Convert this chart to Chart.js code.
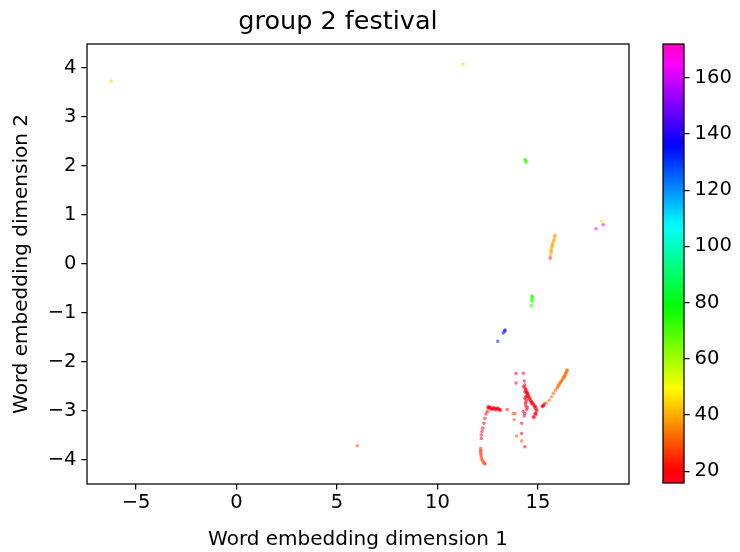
<!DOCTYPE html>
<html>
<head>
<meta charset="utf-8">
<script src="https://cdn.jsdelivr.net/npm/chart.js@4.4.1/dist/chart.umd.min.js"></script>
<style>
  html, body { margin: 0; padding: 0; background: #fff; }
  #wrap { position: relative; width: 740px; height: 552px; }
  #main { position: absolute; left: 0; top: 0; }
  #cbar { position: absolute; left: 640px; top: 0; }
</style>
</head>
<body>
<div id="wrap">
  <canvas id="main" width="740" height="552"></canvas>
  <canvas id="cbar" width="100" height="552"></canvas>
</div>
<script>
// Word embedding coordinates (dimension 1, dimension 2) and the word index used for colour
const dim1 = [
  -6.23, 11.28, 6.01,
  14.35, 14.38, 14.40, 14.41,
  14.70, 14.73, 14.69, 14.72, 14.67, 14.71,
  15.85, 15.82, 15.80, 15.76, 15.73, 15.70, 15.68, 15.66, 15.65, 15.63, 15.61,
  15.84, 15.78, 15.71, 15.67,
  17.89, 18.25, 18.17,
  13.36, 13.27, 13.00, 13.34,
  16.46, 16.39, 16.32, 16.24, 16.17, 16.09, 16.02, 15.95, 15.87, 15.77, 15.68, 15.56, 15.40,
  16.43, 16.35, 16.28, 16.20, 16.13, 16.05, 15.98, 16.44, 16.37, 16.30,
  15.21, 15.27, 15.31, 15.24,
  12.53, 12.56, 12.61, 12.69, 12.76, 12.84, 12.91, 12.99, 13.06, 13.13, 12.51, 12.65, 12.80, 12.95,
  12.58, 12.72, 12.88, 13.02, 13.10,
  12.48, 12.41, 12.36, 12.31, 12.25, 12.21, 12.18, 12.18,
  12.15, 12.15, 12.15, 12.16, 12.16, 12.18, 12.20, 12.23, 12.28, 12.33, 12.36,
  13.91, 14.27, 13.91, 14.32, 14.35, 14.27, 14.35, 14.40, 14.35, 14.44, 14.48, 14.52, 14.45, 14.55,
  14.60, 14.35, 14.40, 14.62, 14.69, 14.73, 14.80, 14.85, 14.90, 14.94, 14.90, 14.80, 14.85, 14.77,
  14.44, 14.35, 14.27, 14.32, 14.19, 14.19, 14.35, 14.40,
  14.38, 14.42, 14.47, 14.50, 14.57, 14.64, 14.68, 14.76, 14.82, 14.88, 14.92, 14.88,
  14.42, 14.38, 14.40, 14.47,
  13.47, 13.77, 13.86, 13.82, 13.94, 14.19
];
const dim2 = [
  3.73, 4.08, -3.71,
  2.14, 2.11, 2.10, 2.07,
  -0.65, -0.69, -0.73, -0.76, -0.85, -0.67,
  0.59, 0.55, 0.50, 0.45, 0.41, 0.36, 0.33, 0.29, 0.23, 0.18, 0.12,
  0.57, 0.47, 0.38, 0.26,
  0.72, 0.80, 0.87,
  -1.35, -1.41, -1.58, -1.37,
  -2.18, -2.22, -2.29, -2.34, -2.39, -2.43, -2.48, -2.53, -2.58, -2.64, -2.71, -2.78, -2.84,
  -2.20, -2.26, -2.31, -2.37, -2.41, -2.46, -2.51, -2.16, -2.24, -2.30,
  -2.91, -2.89, -2.86, -2.90,
  -2.91, -2.94, -2.93, -2.94, -2.95, -2.95, -2.96, -2.96, -2.97, -2.99, -2.94, -2.96, -2.93, -2.94,
  -2.92, -2.97, -2.97, -2.95, -2.97,
  -3.01, -3.06, -3.15, -3.25, -3.35, -3.42, -3.49, -3.56,
  -3.76, -3.80, -3.83, -3.87, -3.90, -3.94, -3.98, -4.01, -4.04, -4.07, -4.08,
  -2.23, -2.23, -2.43, -2.39, -2.47, -2.50, -2.53, -2.57, -2.61, -2.64, -2.65, -2.67, -2.70, -2.71,
  -2.74, -2.74, -2.81, -2.78, -2.81, -2.84, -2.88, -2.90, -2.92, -2.98, -3.05, -3.13, -3.05, -3.12,
  -2.97, -3.05, -3.01, -3.10, -3.25, -3.46, -3.73, -2.71,
  -2.55, -2.60, -2.62, -2.70, -2.75, -2.80, -2.84, -2.86, -2.92, -2.95, -3.00, -3.08,
  -2.77, -2.85, -2.90, -2.93,
  -2.97, -3.05, -3.05, -3.18, -3.51, -3.61
];
const wordIndex = [
  44, 58, 30,
  72, 72, 72, 72,
  74, 74, 74, 74, 74, 74,
  40, 40, 40, 40, 40, 40, 40, 40, 40, 40, 25,
  40, 40, 40, 40,
  171, 172, 46,
  136, 134, 132, 136,
  32, 32, 32, 32, 32, 32, 32, 32, 32, 32, 32, 32, 32,
  32, 32, 32, 32, 32, 32, 32, 32, 32, 32,
  20, 20, 20, 20,
  18, 18, 18, 18, 18, 18, 18, 18, 18, 18, 18, 18, 18, 18,
  18, 18, 18, 18, 18,
  17, 17, 17, 17, 17, 17, 17, 17,
  28, 28, 28, 28, 28, 28, 28, 28, 28, 28, 28,
  17, 17, 17, 18, 18, 18, 18, 18, 18, 18, 18, 18, 18, 18,
  18, 18, 18, 18, 18, 18, 18, 18, 18, 18, 18, 18, 18, 18,
  18, 17, 17, 17, 17, 17, 17, 18,
  18, 18, 18, 18, 18, 18, 18, 18, 18, 18, 18, 18,
  18, 18, 18, 18,
  22, 30, 30, 30, 30, 30
];

const chartTitle = 'group 2 festival';
const xTicks = [-5, 0, 5, 10, 15];
const yTicks = [-4, -3, -2, -1, 0, 1, 2, 3, 4];
const cbarTicks = [20, 40, 60, 80, 100, 120, 140, 160];
const colourMin = 15.8, colourMax = 172;

// gist_rainbow colour map stops
const rainbowStops = [
  [0.000, [1.00, 0.00, 0.16]],
  [0.030, [1.00, 0.00, 0.00]],
  [0.215, [1.00, 1.00, 0.00]],
  [0.400, [0.00, 1.00, 0.00]],
  [0.586, [0.00, 1.00, 1.00]],
  [0.770, [0.00, 0.00, 1.00]],
  [0.954, [1.00, 0.00, 1.00]],
  [1.000, [1.00, 0.00, 0.75]]
];
function rainbow(t, alpha) {
  t = Math.max(0, Math.min(1, t));
  let i = 0;
  while (i < rainbowStops.length - 2 && t > rainbowStops[i + 1][0]) i++;
  const [t0, c0] = rainbowStops[i], [t1, c1] = rainbowStops[i + 1];
  const f = (t - t0) / (t1 - t0);
  const c = c0.map((v, k) => Math.round(255 * (v + (c1[k] - v) * f)));
  return `rgba(${c[0]},${c[1]},${c[2]},${alpha})`;
}
const norm = v => (v - colourMin) / (colourMax - colourMin);
const fmt = v => (v < 0 ? '\u2212' + Math.abs(v) : String(v));

Chart.defaults.font.family = "'DejaVu Sans', sans-serif";
Chart.defaults.font.size = 19.5;
Chart.defaults.color = '#000';

const points = dim1.map((x, i) => ({ x, y: dim2[i], v: wordIndex[i] }));

const tickGrid = {
  display: true, drawOnChartArea: false, drawTicks: true,
  tickLength: 5.6, tickWidth: 1.25, tickColor: '#000', color: '#000', lineWidth: 1.25
};

// Axes frame on all four sides
const framePlugin = {
  id: 'frame',
  afterDraw(chart) {
    const { ctx, chartArea: a } = chart;
    ctx.save();
    ctx.strokeStyle = '#000';
    ctx.lineWidth = 1.25;
    ctx.strokeRect(a.left, a.top, a.right - a.left, a.bottom - a.top);
    ctx.restore();
  }
};

// Title text above the plot area
const headingPlugin = {
  id: 'heading',
  afterDraw(chart) {
    const { ctx } = chart;
    ctx.save();
    ctx.fillStyle = '#000';
    ctx.font = "25.5px 'DejaVu Sans', sans-serif";
    ctx.textAlign = 'center';
    ctx.textBaseline = 'middle';
    ctx.fillText(chartTitle, 338, 22.5);
    ctx.restore();
  }
};

new Chart(document.getElementById('main'), {
  type: 'scatter',
  data: {
    datasets: [{
      data: points,
      pointRadius: 1.8,
      pointBorderWidth: 0,
      pointBackgroundColor: c => rainbow(norm(c.raw ? c.raw.v : colourMin), 0.55)
    }]
  },
  options: {
    responsive: false,
    animation: false,
    layout: { padding: { left: 0, right: 111, top: 44, bottom: 0 } },
    plugins: {
      legend: { display: false },
      tooltip: { enabled: false },
      title: { display: false }
    },
    scales: {
      x: {
        type: 'linear', min: -7.44, max: 19.53,
        afterFit(s) { s.height = 68; },
        afterBuildTicks(s) { s.ticks = xTicks.map(v => ({ value: v })); },
        ticks: { callback: fmt, padding: 2, maxRotation: 0, autoSkip: false },
        grid: tickGrid,
        border: { display: false },
        title: { display: true, text: 'Word embedding dimension 1', font: { size: 20 }, padding: { top: 8, bottom: 0 } }
      },
      y: {
        type: 'linear', min: -4.49, max: 4.49,
        afterFit(s) { s.width = 87; },
        afterBuildTicks(s) { s.ticks = yTicks.map(v => ({ value: v })); },
        ticks: { callback: fmt, padding: 5, autoSkip: false },
        grid: tickGrid,
        border: { display: false },
        title: { display: true, text: 'Word embedding dimension 2', font: { size: 20 }, padding: { top: 10, bottom: 0 } }
      }
    }
  },
  plugins: [framePlugin, headingPlugin]
});

// Colour bar: gradient strip with its own value axis
const gradientPlugin = {
  id: 'gradient',
  beforeDatasetsDraw(chart) {
    const { ctx, chartArea: a } = chart;
    const g = ctx.createLinearGradient(0, a.bottom, 0, a.top);
    for (let k = 0; k <= 64; k++) g.addColorStop(k / 64, rainbow(k / 64, 1));
    ctx.save();
    ctx.fillStyle = g;
    ctx.fillRect(a.left, a.top, a.right - a.left, a.bottom - a.top);
    ctx.restore();
  }
};

new Chart(document.getElementById('cbar'), {
  type: 'scatter',
  data: { datasets: [{ data: [] }] },
  options: {
    responsive: false,
    animation: false,
    layout: { padding: { left: 23, right: 0, top: 44, bottom: 69 } },
    plugins: { legend: { display: false }, tooltip: { enabled: false } },
    scales: {
      x: { display: false, min: 0, max: 1 },
      y: {
        type: 'linear', position: 'right', min: colourMin, max: colourMax,
        afterFit(s) { s.width = 56; },
        afterBuildTicks(s) { s.ticks = cbarTicks.map(v => ({ value: v })); },
        ticks: { padding: 5, autoSkip: false },
        grid: tickGrid,
        border: { display: false }
      }
    }
  },
  plugins: [gradientPlugin, framePlugin]
});
</script>
</body>
</html>
